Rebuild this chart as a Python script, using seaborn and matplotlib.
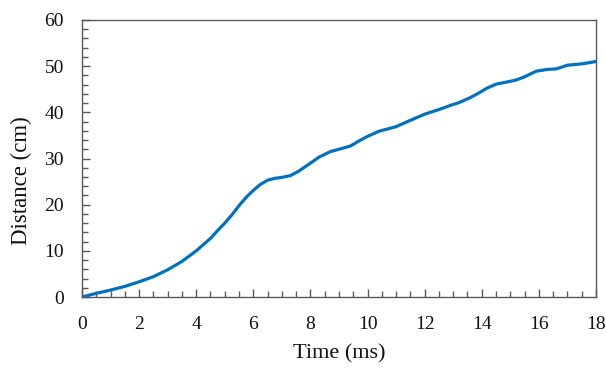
import matplotlib
matplotlib.use("Agg")
import matplotlib.pyplot as plt
from matplotlib.ticker import MultipleLocator
import seaborn as sns
import pandas as pd

# Measured distance travelled over time
time_ms = [0, 0.5, 1.0, 1.5, 2.0, 2.5, 3.0, 3.5, 4.0, 4.5, 4.75, 5.0, 5.25,
           5.5, 5.75, 6.0, 6.25, 6.5, 6.75, 7.0, 7.3, 7.6, 8.0, 8.3, 8.7,
           9.0, 9.4, 9.7, 10.0, 10.4, 10.7, 11.0, 11.4, 11.7, 12.0, 12.5,
           12.9, 13.2, 13.6, 13.9, 14.2, 14.5, 14.9, 15.2, 15.5, 15.9, 16.3,
           16.6, 17.0, 17.5, 18.0]
distance_cm = [0, 0.8, 1.5, 2.3, 3.3, 4.4, 5.9, 7.7, 10.0, 12.7, 14.4, 16.0,
               17.8, 19.8, 21.6, 23.1, 24.4, 25.3, 25.7, 25.9, 26.3, 27.3,
               29.0, 30.3, 31.5, 32.0, 32.7, 33.8, 34.8, 35.9, 36.4, 36.9,
               38.0, 38.8, 39.6, 40.6, 41.5, 42.1, 43.2, 44.2, 45.3, 46.1,
               46.6, 47.0, 47.7, 48.9, 49.3, 49.4, 50.2, 50.5, 51.0]

x_ticks = [0, 2, 4, 6, 8, 10, 12, 14, 16, 18]
y_ticks = [0, 10, 20, 30, 40, 50, 60]

df = pd.DataFrame({"Time (ms)": time_ms, "Distance (cm)": distance_cm})

sns.set_theme(style="ticks")
plt.rcParams["font.family"] = ["Liberation Serif", "DejaVu Serif"]

fig = plt.figure(figsize=(6.06, 3.69), dpi=100)
ax = fig.add_axes([0.1353, 0.1951, 0.8482, 0.7507])

sns.lineplot(data=df, x="Time (ms)", y="Distance (cm)", ax=ax,
             color="#0070C0", linewidth=2.3, zorder=3)

ax.set_xlim(0, 18)
ax.set_ylim(0, 60)
ax.set_xticks(x_ticks)
ax.set_yticks(y_ticks)
ax.xaxis.set_minor_locator(MultipleLocator(0.5))
ax.yaxis.set_minor_locator(MultipleLocator(2))

spine_col = "#595959"
for s in ax.spines.values():
    s.set_color(spine_col)
    s.set_linewidth(1.0)

ax.tick_params(axis="both", which="major", direction="in", length=6,
               width=1.0, color=spine_col, labelsize=14, labelcolor="#111111")
ax.tick_params(axis="both", which="minor", direction="in", length=4,
               width=1.0, color=spine_col)
ax.tick_params(axis="y", which="major", pad=13)
ax.tick_params(axis="x", which="major", pad=14)

ax.set_xlabel("Time (ms)", fontsize=16, color="#111111", labelpad=8)
ax.set_ylabel("Distance (cm)", fontsize=16.5, color="#111111")
ax.yaxis.set_label_coords(-0.097, 0.42)

fig.savefig("out.png", dpi=100)
